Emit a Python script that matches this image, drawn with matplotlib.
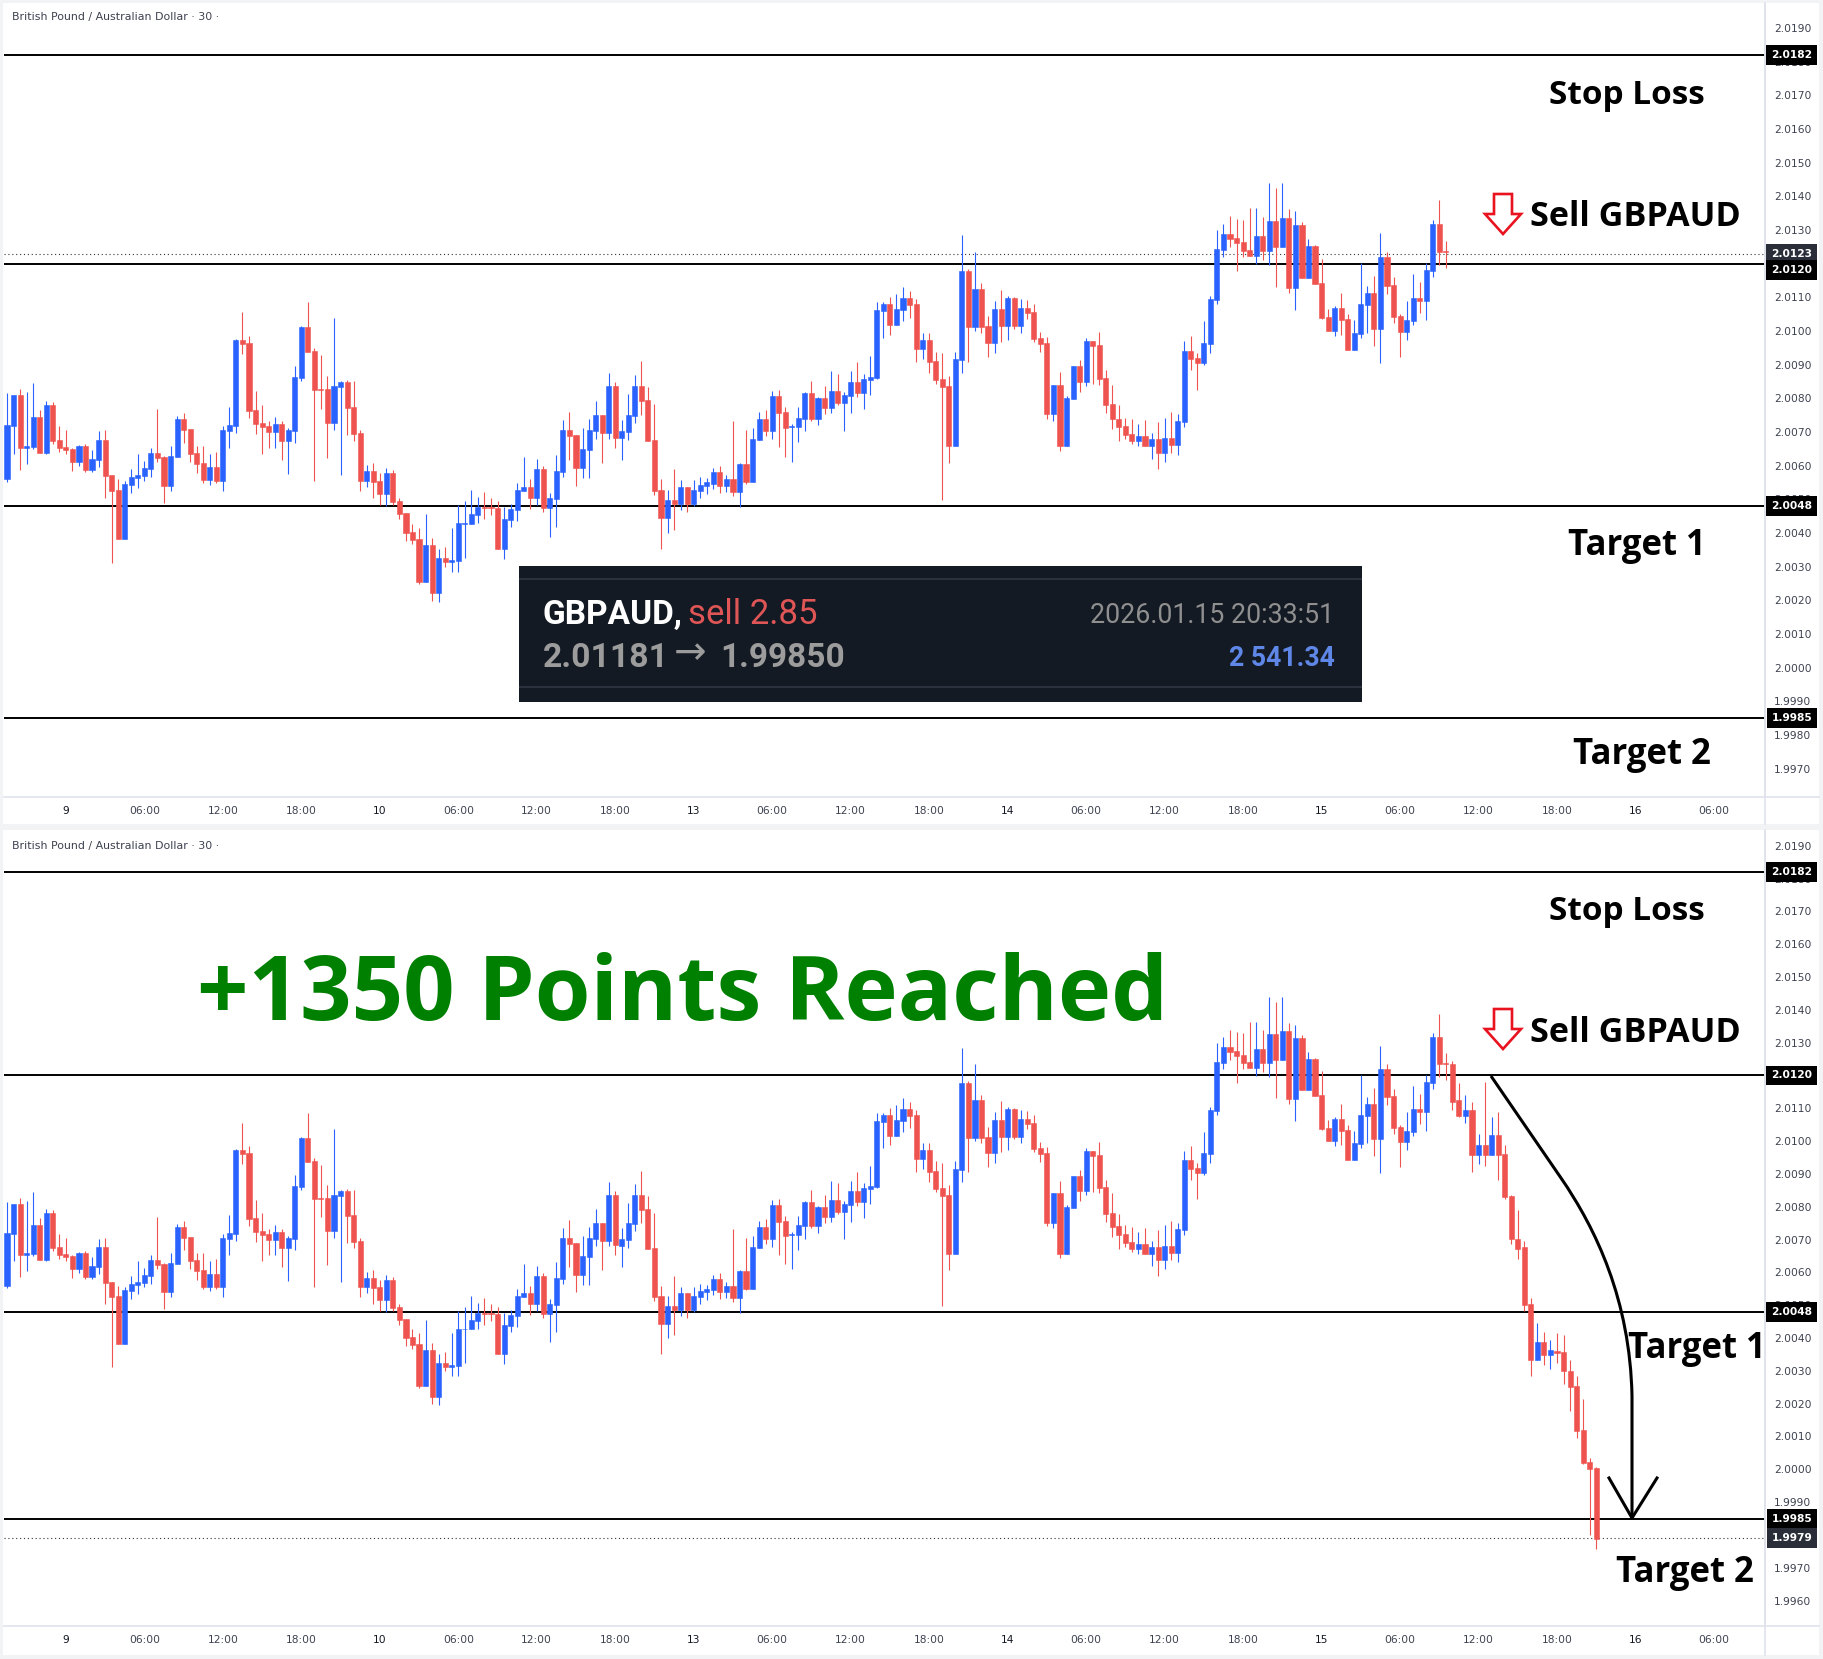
import numpy as np
import matplotlib
matplotlib.use('Agg')
import matplotlib.pyplot as plt
from matplotlib.patches import Rectangle, Polygon, PathPatch
from matplotlib.path import Path
from matplotlib.lines import Line2D
from matplotlib.transforms import Affine2D

W, H = 1823, 1659

# prices in 1/100000, one candle every 30 min
opens = [200560,200717,200809,200652,200655,200744,200637,200780,200676,200655,
         200649,200610,200658,200587,200616,200676,200572,200527,200382,200542,
         200563,200569,200590,200637,200625,200539,200625,200738,200708,200637,
         200608,200557,200596,200554,200703,200717,200973,200964,200765,200726,
         200717,200700,200723,200673,200703,200860,201011,200940,200827,200827,
         200726,200833,200848,200774,200697,200554,200584,200554,200515,200578,
         200495,200459,200403,200382,200254,200364,200221,200325,200313,200316,
         200426,200426,200453,200477,200477,200474,200352,200438,200468,200524,
         200536,200504,200590,200474,200501,200581,200705,200691,200593,200646,
         200703,200750,200697,200836,200681,200699,200746,200836,200794,200675,
         200527,200444,200497,200485,200536,200485,200524,200541,200547,200580,
         200541,200559,200521,200604,200550,200675,200738,200702,200806,200758,
         200714,200714,200740,200815,200740,200800,200770,200821,200785,200806,
         200847,200815,200853,200859,201058,201079,201017,201061,201097,201079,
         200945,200972,200910,200856,200836,200657,200913,201177,201011,201124,
         201014,200963,201064,201014,201097,201014,201067,201055,200978,200963,
         200752,200841,200657,200797,200895,200847,200969,200957,200859,200782,
         200740,200717,200693,200672,200687,200657,200678,200639,200681,200660,
         200729,200942,200919,200904,200960,201091,201239,201287,201275,201263,
         201240,201222,201281,201237,201326,201248,201335,201127,201314,201156,
         201251,201142,201041,200999,201068,201035,200943,200990,201076,201112,
         201005,201219,201136,201044,200996,201029,201097,201088,201177,201317,
         201237,201234,201124,201078,201096,200958,200988,200959,201018,200962,
         200834,200702,200676,200505,200334,200389,200349,200361,200358,200300,200254,200120,200023,200004]
highs = [200815,200809,200827,200818,200845,200765,200792,200789,200717,200705,
         200652,200661,200664,200646,200703,200705,200572,200560,200554,200590,
         200634,200613,200652,200768,200628,200658,200747,200756,200708,200658,
         200658,200634,200640,200717,200774,200976,201056,200985,200821,200780,
         200732,200744,200732,200711,200896,201014,201086,200949,200928,200866,
         201038,200851,200854,200851,200705,200602,200608,200578,200593,200587,
         200504,200459,200426,200414,200456,200385,200352,200358,200414,200483,
         200495,200527,200507,200521,200504,200495,200477,200486,200548,200625,
         200560,200619,200599,200518,200631,200735,200759,200691,200711,200738,
         200792,200750,200875,200848,200735,200812,200868,200910,200833,200782,
         200559,200527,200589,200556,200538,200556,200565,200562,200592,200598,
         200571,200732,200607,200705,200711,200758,200764,200821,200824,200773,
         200723,200773,200818,200850,200803,200836,200880,200871,200818,200880,
         200907,200871,200925,201085,201085,201100,201109,201132,201118,201094,
         200993,200993,200939,200934,200865,200939,201284,201183,201236,201141,
         201043,201088,201121,201103,201100,201094,201091,201079,200996,200981,
         200841,200877,200806,200895,200913,200978,200969,200996,200883,200841,
         200779,200743,200738,200723,200735,200696,200729,200743,200758,200752,
         200969,200984,200934,201029,201103,201299,201317,201340,201332,201329,
         201364,201364,201338,201439,201424,201439,201361,201355,201323,201272,
         201254,201213,201064,201074,201112,201050,201032,201201,201133,201163,
         201290,201234,201160,201050,201088,201169,201145,201201,201329,201388,
         201267,201244,201177,201142,201120,201021,201179,201074,201088,200987,
         200837,200791,200695,200523,200447,200419,200395,200416,200410,200334,200284,200214,200035,200008]
lows = [200552,200634,200587,200605,200649,200637,200634,200664,200640,200634,
        200584,200599,200581,200581,200596,200504,200311,200382,200382,200518,
        200533,200554,200566,200610,200489,200524,200625,200667,200610,200578,
        200548,200542,200548,200524,200652,200697,200931,200741,200694,200634,
        200652,200652,200616,200575,200667,200851,200937,200554,200768,200622,
        200705,200572,200691,200673,200524,200536,200504,200483,200480,200483,
        200441,200376,200367,200248,200254,200198,200195,200299,200284,200284,
        200325,200426,200429,200441,200453,200352,200322,200417,200435,200524,
        200471,200483,200462,200388,200417,200566,200616,200539,200563,200563,
        200679,200608,200679,200652,200616,200675,200726,200749,200672,200512,
        200352,200399,200408,200468,200462,200480,200503,200515,200530,200518,
        200521,200509,200476,200547,200550,200675,200687,200678,200654,200625,
        200610,200669,200702,200734,200720,200752,200755,200779,200702,200755,
        200803,200767,200809,200856,200978,200987,201017,201029,201040,200907,
        200916,200874,200844,200497,200607,200657,200874,200907,200999,200993,
        200922,200934,200966,200972,201005,200993,201037,200966,200937,200740,
        200734,200645,200657,200797,200818,200836,200844,200841,200755,200708,
        200672,200678,200663,200657,200657,200619,200589,200610,200639,200631,
        200714,200883,200824,200898,200934,201079,201219,201248,201177,201219,
        201222,201198,201210,201195,201130,201248,201112,201061,201156,201156,
        201139,201035,200999,200984,200987,200943,200943,200978,200993,200955,
        200904,201109,201023,200922,200972,201017,201053,201032,201160,201195,
        201186,201096,201073,201054,200906,200929,200923,200957,200883,200825,
        200688,200642,200482,200284,200334,200318,200306,200323,200261,200178,200094,200016,199801,199758]
closes = [200720,200809,200652,200658,200744,200637,200780,200673,200652,200646,
          200610,200658,200587,200619,200676,200569,200524,200382,200545,200566,
          200572,200593,200637,200622,200539,200628,200738,200705,200634,200605,
          200557,200596,200554,200705,200720,200973,200961,200762,200723,200714,
          200700,200723,200673,200705,200863,201011,200937,200824,200824,200726,
          200836,200848,200771,200694,200554,200584,200551,200515,200578,200492,
          200456,200400,200379,200254,200364,200221,200325,200313,200319,200429,
          200429,200456,200477,200474,200474,200352,200441,200471,200527,200536,
          200504,200590,200474,200504,200584,200705,200688,200593,200649,200705,
          200750,200697,200836,200682,200702,200749,200836,200791,200672,200524,
          200444,200497,200485,200536,200485,200527,200544,200550,200580,200541,
          200559,200521,200604,200550,200678,200738,200702,200806,200755,200711,
          200717,200743,200815,200740,200800,200770,200821,200785,200809,200847,
          200815,200856,200862,201061,201079,201017,201064,201097,201076,200945,
          200972,200907,200853,200833,200657,200916,201177,201011,201124,201011,
          200963,201064,201014,201097,201014,201067,201052,200975,200960,200752,
          200841,200657,200800,200895,200847,200969,200954,200856,200779,200738,
          200714,200690,200672,200687,200657,200678,200639,200681,200660,200732,
          200942,200916,200904,200963,201094,201242,201287,201272,201260,201237,
          201222,201281,201237,201326,201248,201335,201127,201314,201156,201251,
          201139,201038,200999,201068,201032,200943,200993,201079,201112,201005,
          201219,201133,201041,200996,201032,201097,201088,201180,201317,201234,
          201234,201120,201078,201096,200958,200988,200959,201018,200959,200831,
          200701,200672,200502,200334,200389,200349,200364,200355,200298,200252,200117,200018,200001,199787]

top_count = 221  # first panel was taken before the drop

time_labels = ['9','06:00','12:00','18:00','10','06:00','12:00','18:00','13','06:00','12:00',
               '18:00','14','06:00','12:00','18:00','15','06:00','12:00','18:00','16','06:00']
first_tick = 9
tick_step = 12
day_labels = ['9','10','13','14','15','16']

levels = [2.0182, 2.0120, 2.0048, 1.9985]
level_labels = ['2.0182', '2.0120', '2.0048', '1.9985']
top_ticks = np.arange(19970, 20191, 10) / 10000
bottom_ticks = np.arange(19960, 20191, 10) / 10000

blue = '#2962ff'
red = '#ef5350'
grid_col = '#e0e3eb'
strip_col = '#f2f3f5'
text_col = '#3d4250'

fig = plt.figure(figsize=(W / 100, H / 100), dpi=100, facecolor='white')
PX = Affine2D().scale(1 / W, -1 / H).translate(0, 1) + fig.transFigure


def make_axes(top, bottom, y_top, y_bottom):
    ax = fig.add_axes([4 / W, 1 - bottom / H, 1761 / W, (bottom - top) / H])
    ax.set_xlim(-0.46, 268.8)
    ax.set_ylim(y_bottom, y_top)
    return ax


def flag(ax, price, txt, col, z, shift=0):
    # shift in points, the scale pushes flags apart when they would collide
    ax.annotate(txt, xy=(1.0152, price), xycoords=ax.get_yaxis_transform(), xytext=(0, shift),
                textcoords='offset points', ha='center', va='center', fontsize=7.7,
                fontweight='bold', color='white', zorder=z, annotation_clip=False,
                bbox=dict(boxstyle='square,pad=0.45', fc=col, ec='none'))


def draw_panel(ax, n, ticks, last_price, last_label, shift_entry=0):
    o = np.array(opens[:n]) / 1e5
    h = np.array(highs[:n]) / 1e5
    l = np.array(lows[:n]) / 1e5
    c = np.array(closes[:n]) / 1e5
    x = np.arange(n)
    cols = [blue if c[i] >= o[i] else red for i in range(n)]
    ax.vlines(x, l, h, colors=cols, linewidth=0.8, zorder=3)
    ax.bar(x, np.abs(c - o), bottom=np.minimum(o, c), width=0.78, color=cols,
           edgecolor=cols, linewidth=0.4, zorder=4)

    for lv in levels:
        ax.axhline(lv, color='black', linewidth=1.4, zorder=2)
    ax.axhline(last_price, color='#333333', linewidth=0.8, linestyle=(0, (1, 2.5)), zorder=2)

    ax.yaxis.tick_right()
    ax.set_yticks(ticks)
    ax.set_yticklabels(['%.4f' % t for t in ticks])
    ax.tick_params(axis='y', length=0, pad=6.5, labelsize=7.7, labelcolor=text_col)
    tick_x = [first_tick + tick_step * i for i in range(len(time_labels))]
    ax.set_xticks(tick_x)
    ax.set_xticklabels(time_labels)
    ax.tick_params(axis='x', length=0, pad=6.5, labelsize=7.7, labelcolor=text_col)
    for lab in ax.get_xticklabels():
        if lab.get_text() in day_labels:
            lab.set_color('#131722')
    for s in ['top', 'left']:
        ax.spines[s].set_visible(False)
    for s in ['right', 'bottom']:
        ax.spines[s].set_color(grid_col)
        ax.spines[s].set_linewidth(1.2)

    for lv, txt in zip(levels, level_labels):
        flag(ax, lv, txt, '#000000', 10, shift_entry if lv == 2.0120 else 0)
    flag(ax, last_price, last_label, '#2a2e39', 9)


ax1 = make_axes(3, 797, 2.01974, 1.99616)
draw_panel(ax1, top_count, top_ticks, 2.0123, '2.0123', shift_entry=-4.5)
ax2 = make_axes(831, 1625.5, 2.01945, 1.99524)
draw_panel(ax2, len(opens), bottom_ticks, 1.9979, '1.9979')

# frame strips round the two screenshots
for x0, y0, w, h in [(0, 0, W, 3), (0, 0, 3, H), (W - 4, 0, 4, H), (0, 824, W, 6), (0, H - 4, W, 4)]:
    fig.add_artist(Rectangle((x0, y0), w, h, transform=PX, fc=strip_col, ec='none'))
for y0, y1 in [(3, 824), (830, H - 4)]:
    fig.add_artist(Line2D([1765, 1765], [y0, y1], transform=PX, color=grid_col, lw=1.2))
for y0 in [797, 1625.5]:
    fig.add_artist(Line2D([1765, W - 4], [y0, y0], transform=PX, color=grid_col, lw=1.2))

for y0 in [17, 846]:
    fig.text(12, y0, 'British Pound / Australian Dollar \u00b7 30 \u00b7', transform=PX, fontsize=7.9,
             family='DejaVu Sans', color=text_col, ha='left', va='center')

bold = dict(family='Open Sans', fontweight='bold', color='black', ha='center', va='center', zorder=12)
fig.text(1627, 95, 'Stop Loss', transform=PX, fontsize=24, **bold)
fig.text(1635, 217, 'Sell GBPAUD', transform=PX, fontsize=24.6, **bold)
fig.text(1637, 546, 'Target 1', transform=PX, fontsize=25, **bold)
fig.text(1642, 755, 'Target 2', transform=PX, fontsize=25, **bold)
fig.text(1627, 911, 'Stop Loss', transform=PX, fontsize=24, **bold)
fig.text(1635, 1033, 'Sell GBPAUD', transform=PX, fontsize=24.6, **bold)
fig.text(1697, 1349, 'Target 1', transform=PX, fontsize=25, **bold)
fig.text(1685, 1573, 'Target 2', transform=PX, fontsize=25, **bold)
fig.text(683, 997, '+1350 Points Reached', transform=PX, fontsize=65, family='Open Sans',
         fontweight='bold', color='#008000', ha='center', va='center', zorder=12)

# hollow red arrows next to the sell label
for dy in [0, 815]:
    pts = [(1494, 194), (1512, 194), (1512, 214), (1521, 214), (1503, 234), (1485, 214), (1494, 214)]
    fig.add_artist(Polygon([(a, b + dy) for a, b in pts], closed=True, transform=PX,
                           fc='white', ec='#e8131f', lw=1.9, joinstyle='miter'))

# result card
fig.add_artist(Rectangle((519, 566), 843, 136, transform=PX, fc='#131a23', ec='none'))
for y0 in [579, 687]:
    fig.add_artist(Rectangle((519, y0 - 1), 843, 2, transform=PX, fc='#2b313d', ec='none'))
card_font = ['Roboto', 'DejaVu Sans']
fig.text(543, 624, 'GBPAUD,', transform=PX, fontsize=24, family=card_font, fontweight='bold', color='white', va='baseline')
fig.text(688, 624, 'sell 2.85', transform=PX, fontsize=25, family=card_font, color='#e05555', va='baseline')
fig.text(543, 667, '2.01181', transform=PX, fontsize=24.3, family=card_font, fontweight='bold', color='#9c9c9c', va='baseline')
fig.text(674, 653, '\u2192', transform=PX, fontsize=28, family=['DejaVu Sans'], color='#9c9c9c', va='center')
fig.text(720, 667, '1.99850', transform=PX, fontsize=24, family=card_font, fontweight='bold', color='#9c9c9c', va='baseline')
fig.text(1334, 623, '2026.01.15 20:33:51', transform=PX, fontsize=19.3, family=card_font, color='#8f8f8f', ha='right', va='baseline')
fig.text(1335, 666, '2 541.34', transform=PX, fontsize=19.2, family=card_font, fontweight='bold', color='#5f87e8', ha='right', va='baseline')

# hand drawn arrow to target 2
verts = [(1491, 1076), (1561, 1178), (1596, 1229), (1630, 1300), (1632, 1396), (1632, 1518)]
codes = [Path.MOVETO, Path.LINETO, Path.CURVE4, Path.CURVE4, Path.CURVE4, Path.LINETO]
fig.add_artist(PathPatch(Path(verts, codes), transform=PX, fc='none', ec='black', lw=2.2, zorder=11))
fig.add_artist(Line2D([1609, 1632, 1657], [1478, 1518, 1478], transform=PX, color='black', lw=2.2, zorder=11))

fig.savefig('out.png', dpi=100)
